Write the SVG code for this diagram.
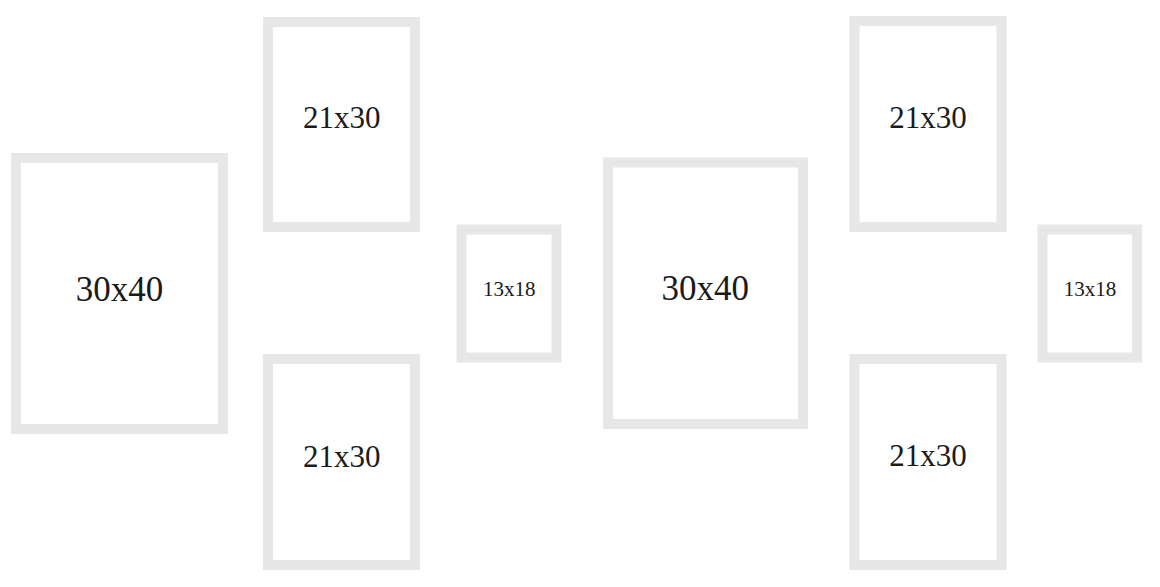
<svg xmlns="http://www.w3.org/2000/svg" width="1160" height="587" viewBox="0 0 1160 587">
<style>
.f{fill:#ffffff;stroke:#e7e7e7;stroke-width:10}
.t{font-family:"Liberation Serif","Times New Roman",serif;fill:#1a1a1a;text-anchor:middle}
.l{font-size:35px}
.m{font-size:31px}
.s{font-size:21px}
</style>
<rect width="1160" height="587" fill="#ffffff"/>
<g id="frame-30x40-left"><rect class="f" x="16" y="158" width="207" height="271"/><text class="t l" x="119.5" y="300.5">30x40</text></g>
<g id="frame-21x30-top-left"><rect class="f" x="268" y="22" width="147" height="205"/><text class="t m" x="341.8" y="128.3">21x30</text></g>
<g id="frame-21x30-bottom-left"><rect class="f" x="268" y="359" width="147" height="206"/><text class="t m" x="341.8" y="466.5">21x30</text></g>
<g id="frame-13x18-left"><rect class="f" x="461.5" y="229.5" width="95" height="128"/><text class="t s" x="509.3" y="296">13x18</text></g>
<g id="frame-30x40-middle"><rect class="f" x="608" y="162.5" width="195" height="261.5"/><text class="t l" x="705.3" y="300">30x40</text></g>
<g id="frame-21x30-top-right"><rect class="f" x="854.5" y="21" width="147" height="206"/><text class="t m" x="928" y="128.3">21x30</text></g>
<g id="frame-21x30-bottom-right"><rect class="f" x="854.5" y="359" width="147" height="206"/><text class="t m" x="928" y="466">21x30</text></g>
<g id="frame-13x18-right"><rect class="f" x="1042.5" y="229.5" width="94.5" height="128"/><text class="t s" x="1090" y="296">13x18</text></g>
<g id="connectors"/>
</svg>
